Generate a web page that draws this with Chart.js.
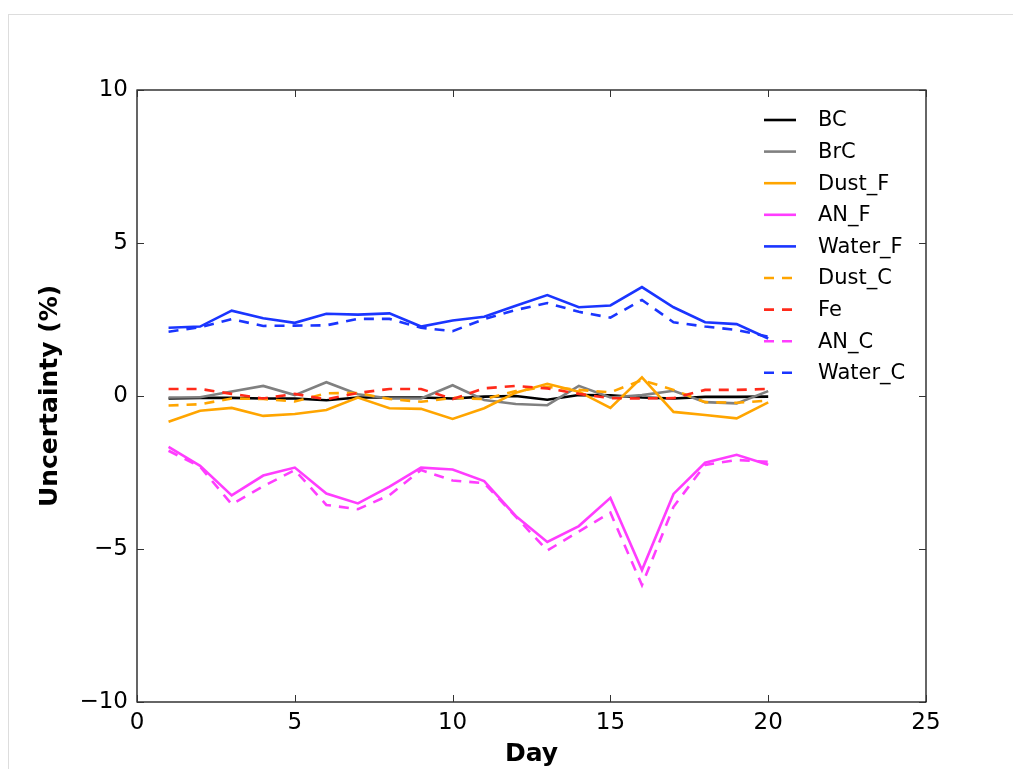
<!DOCTYPE html>
<html>
<head>
<meta charset="utf-8">
<script src="https://cdn.jsdelivr.net/npm/chart.js@4.4.0/dist/chart.umd.min.js"></script>
<style>
  body { margin: 0; background: #fff; overflow: hidden; }
  #card { position: absolute; left: 8px; top: 14px; width: 1100px; height: 900px; border: 1px solid #ddd; }
  #chart { position: absolute; left: 0; top: 0; }
</style>
</head>
<body>
<div id="card"></div>
<canvas id="chart" width="1013" height="769"></canvas>
<script>
// Values (uncertainty in %, per day)
const days = [1, 2, 3, 4, 5, 6, 7, 8, 9, 10, 11, 12, 13, 14, 15, 16, 17, 18, 19, 20];
const bc      = [-0.08, -0.06, -0.06, -0.08, -0.08, -0.14, -0.05, -0.05, -0.05, -0.08, -0.02, 0.0, -0.12, 0.03, 0.02, -0.05, -0.08, -0.03, -0.03, -0.02];
const brc     = [-0.05, -0.04, 0.15, 0.33, 0.03, 0.45, 0.06, -0.08, -0.08, 0.35, -0.13, -0.26, -0.30, 0.33, -0.05, 0.03, 0.17, -0.20, -0.24, 0.16];
const dustF   = [-0.84, -0.48, -0.39, -0.65, -0.59, -0.46, -0.05, -0.40, -0.42, -0.75, -0.40, 0.11, 0.40, 0.14, -0.39, 0.61, -0.52, -0.62, -0.73, -0.21];
const anF     = [-1.66, -2.28, -3.25, -2.60, -2.34, -3.19, -3.51, -2.96, -2.34, -2.40, -2.78, -3.92, -4.77, -4.25, -3.33, -5.69, -3.20, -2.18, -1.92, -2.25];
const waterF  = [2.23, 2.27, 2.79, 2.54, 2.39, 2.69, 2.66, 2.70, 2.27, 2.47, 2.59, 2.95, 3.30, 2.90, 2.96, 3.56, 2.90, 2.41, 2.35, 1.88];
const dustC   = [-0.31, -0.27, -0.08, -0.10, -0.18, 0.09, 0.10, -0.10, -0.19, -0.06, -0.10, 0.16, 0.30, 0.20, 0.12, 0.52, 0.20, -0.20, -0.22, -0.15];
const fe      = [0.23, 0.23, 0.07, -0.08, 0.07, -0.11, 0.10, 0.23, 0.23, -0.10, 0.25, 0.33, 0.25, 0.07, -0.07, -0.08, -0.07, 0.20, 0.20, 0.23];
const anC     = [-1.79, -2.31, -3.54, -2.95, -2.42, -3.56, -3.70, -3.24, -2.42, -2.76, -2.85, -3.94, -5.05, -4.43, -3.81, -6.18, -3.62, -2.25, -2.09, -2.15];
const waterC  = [2.10, 2.25, 2.51, 2.29, 2.30, 2.31, 2.52, 2.52, 2.23, 2.12, 2.51, 2.81, 3.04, 2.75, 2.56, 3.14, 2.41, 2.27, 2.16, 1.94];

const xTicks = [0, 5, 10, 15, 20, 25];
const yTicks = [-10, -5, 0, 5, 10];

const DASH = [10, 8];

const series = [
  { label: 'BC',      values: bc,     color: '#000000', dash: [] },
  { label: 'BrC',     values: brc,    color: '#808080', dash: [] },
  { label: 'Dust_F',  values: dustF,  color: '#ffa500', dash: [] },
  { label: 'AN_F',    values: anF,    color: '#ff3dff', dash: [] },
  { label: 'Water_F', values: waterF, color: '#1a35ff', dash: [] },
  { label: 'Dust_C',  values: dustC,  color: '#ffa500', dash: DASH },
  { label: 'Fe',      values: fe,     color: '#ff2a1a', dash: DASH },
  { label: 'AN_C',    values: anC,    color: '#ff3dff', dash: DASH },
  { label: 'Water_C', values: waterC, color: '#1a35ff', dash: DASH }
];

const datasets = series.map((s, i) => ({
  label: s.label,
  data: days.map((d, j) => ({ x: d, y: s.values[j] })),
  borderColor: s.color,
  backgroundColor: s.color,
  borderDash: s.dash,
  borderWidth: 2.6,
  pointRadius: 0,
  tension: 0,
  fill: false,
  order: series.length - i  // later series drawn on top, like matplotlib
}));

function minusLabel(v) {
  return v < 0 ? '\u2212' + Math.abs(v) : String(v);
}

// frame box with inward ticks on all four sides
const framePlugin = {
  id: 'frame',
  afterDatasetsDraw(chart) {
    const { ctx, chartArea: a, scales } = chart;
    ctx.save();
    ctx.strokeStyle = '#000';
    ctx.lineWidth = 1.2;
    ctx.setLineDash([]);
    ctx.strokeRect(a.left, a.top, a.right - a.left, a.bottom - a.top);
    const len = 7;
    ctx.beginPath();
    xTicks.forEach(v => {
      const px = Math.round(scales.x.getPixelForValue(v)) + 0.5;
      ctx.moveTo(px, a.bottom); ctx.lineTo(px, a.bottom - len);
      ctx.moveTo(px, a.top); ctx.lineTo(px, a.top + len);
    });
    yTicks.forEach(v => {
      const py = Math.round(scales.y.getPixelForValue(v)) + 0.5;
      ctx.moveTo(a.left, py); ctx.lineTo(a.left + len, py);
      ctx.moveTo(a.right, py); ctx.lineTo(a.right - len, py);
    });
    ctx.lineWidth = 1;
    ctx.strokeStyle = '#333';
    ctx.stroke();
    ctx.restore();
  }
};

// legend inside the axes, top right, no box
const innerLegend = {
  id: 'innerLegend',
  afterDatasetsDraw(chart) {
    const { ctx, chartArea: a } = chart;
    const x0 = a.right - 162;
    const lineLen = 32;
    const rowH = 31.6;
    ctx.save();
    ctx.font = '21px "DejaVu Sans"';
    ctx.textBaseline = 'middle';
    ctx.textAlign = 'left';
    chart.data.datasets.forEach((ds, i) => {
      const y = a.top + 30 + i * rowH;
      ctx.beginPath();
      ctx.strokeStyle = ds.borderColor;
      ctx.lineWidth = 2.6;
      ctx.setLineDash(ds.borderDash);
      ctx.moveTo(x0, y);
      ctx.lineTo(x0 + lineLen, y);
      ctx.stroke();
      ctx.setLineDash([]);
      ctx.fillStyle = '#000';
      ctx.fillText(ds.label, x0 + lineLen + 22, y + 1);
    });
    ctx.restore();
  }
};

const tickFont = { family: 'DejaVu Sans', size: 23 };
const titleFont = { family: 'DejaVu Sans', size: 25, weight: 'bold' };

new Chart(document.getElementById('chart'), {
  type: 'line',
  data: { datasets },
  options: {
    responsive: false,
    animation: false,
    layout: { padding: { top: 90, right: 87, left: 0, bottom: 0 } },
    plugins: { legend: { display: false }, tooltip: { enabled: false } },
    scales: {
      x: {
        type: 'linear',
        min: 0,
        max: 25,
        afterFit(scale) { scale.height = 67; },
        afterBuildTicks(scale) { scale.ticks = xTicks.map(v => ({ value: v })); },
        grid: { display: false, drawTicks: false },
        border: { display: false },
        ticks: { color: '#000', font: tickFont, padding: 7, maxRotation: 0, callback: minusLabel },
        title: { display: true, text: 'Day', color: '#000', font: titleFont, padding: { top: 0, bottom: 0 } }
      },
      y: {
        type: 'linear',
        min: -10,
        max: 10,
        afterFit(scale) { scale.width = 137; },
        afterBuildTicks(scale) { scale.ticks = yTicks.map(v => ({ value: v })); },
        grid: { display: false, drawTicks: false },
        border: { display: false },
        ticks: { color: '#000', font: tickFont, padding: 9, callback: minusLabel },
        title: { display: true, text: 'Uncertainty (%)', color: '#000', font: titleFont, padding: { top: 35, bottom: 0 } }
      }
    }
  },
  plugins: [framePlugin, innerLegend]
});
</script>
</body>
</html>
